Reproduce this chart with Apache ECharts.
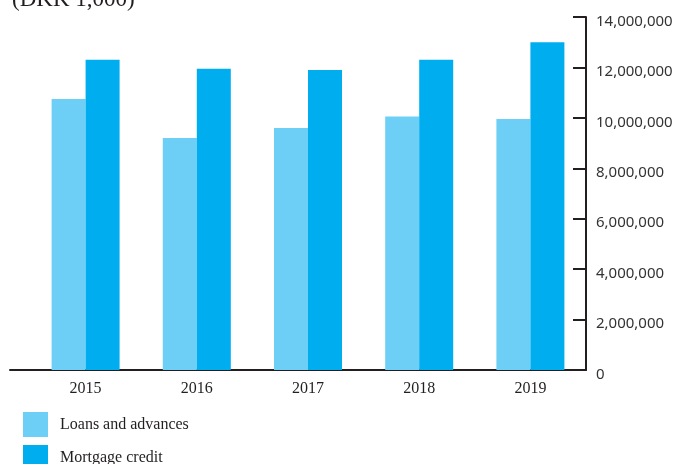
<!DOCTYPE html>
<html>
<head>
<meta charset="utf-8">
<script src="https://cdn.jsdelivr.net/npm/echarts@6/dist/echarts.min.js"></script>
<style>html,body{margin:0;padding:0;background:#fff}#c{width:677px;height:464px}</style>
</head>
<body>
<div id="c"></div>
<script>
const categories = ['2015', '2016', '2017', '2018', '2019'];
const loansAndAdvances = [10750000, 9200000, 9600000, 10050000, 9950000];
const mortgageCredit = [12300000, 11950000, 11900000, 12300000, 13000000];
const yTickValues = [0, 2000000, 4000000, 6000000, 8000000, 10000000, 12000000, 14000000];
const seriesNames = ['Loans and advances', 'Mortgage credit'];
const unitTitle = '(DKK 1,000)';

const axisColor = '#231f20';
const chart = echarts.init(document.getElementById('c'), null, {renderer: 'canvas'});
chart.setOption({
  animation: false,
  title: {
    text: unitTitle, left: 12, top: -12, padding: 0,
    textStyle: {fontFamily: 'Liberation Serif', fontSize: 23, fontWeight: 'normal', color: axisColor}
  },
  legend: {
    orient: 'vertical', left: 23, top: 412, height: 120, itemWidth: 25, itemHeight: 25, itemGap: 8,
    padding: 0, icon: 'rect', data: seriesNames,
    textStyle: {fontFamily: 'Liberation Serif', fontSize: 16, color: axisColor, padding: [0, 0, 0, 7]}
  },
  grid: [
    {left: 30, right: 91, top: 17, bottom: 94, containLabel: false},
    {left: 10, right: 91, top: 17, bottom: 94, containLabel: false}
  ],
  xAxis: [
    {
      type: 'category', data: categories, gridIndex: 0,
      axisLine: {show: false}, axisTick: {show: false},
      axisLabel: {fontFamily: 'Liberation Serif', fontSize: 16, color: axisColor, margin: 11}
    },
    {
      type: 'category', data: [''], gridIndex: 1,
      axisLine: {show: true, lineStyle: {color: axisColor, width: 2}},
      axisTick: {show: false}, axisLabel: {show: false}
    }
  ],
  yAxis: [
    {
      type: 'value', position: 'right', gridIndex: 0,
      min: yTickValues[0], max: yTickValues[yTickValues.length - 1],
      interval: yTickValues[1] - yTickValues[0],
      axisLine: {show: true, lineStyle: {color: axisColor, width: 2}},
      axisTick: {show: true, inside: true, length: 13, lineStyle: {color: axisColor, width: 2}},
      splitLine: {show: false},
      axisLabel: {
        margin: 10,
        formatter: v => '{v|' + v.toLocaleString('en-US') + '}',
        rich: {v: {fontFamily: 'Noto Sans', fontSize: 15, color: '#333', padding: [9, 0, 0, 0]}}
      }
    },
    {
      type: 'value', gridIndex: 1, show: false, min: 0, max: 1
    }
  ],
  series: [
    {
      name: seriesNames[0], type: 'bar', xAxisIndex: 0, yAxisIndex: 0,
      data: loansAndAdvances, barWidth: 34, barGap: '0%',
      itemStyle: {color: '#6dcff6'}
    },
    {
      name: seriesNames[1], type: 'bar', xAxisIndex: 0, yAxisIndex: 0,
      data: mortgageCredit, barWidth: 34, barGap: '0%',
      itemStyle: {color: '#00aeef'}
    }
  ]
});
</script>
</body>
</html>
